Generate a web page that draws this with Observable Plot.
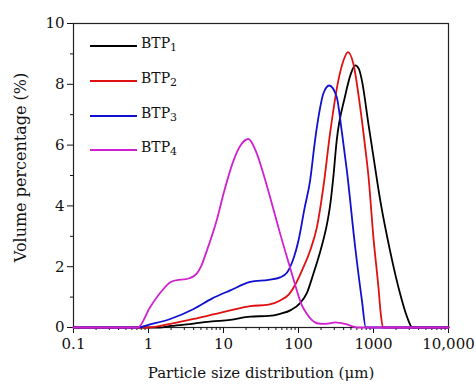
<!DOCTYPE html>
<html>
<head>
<meta charset="utf-8">
<script src="https://cdn.jsdelivr.net/npm/d3@7"></script>
<script src="https://cdn.jsdelivr.net/npm/@observablehq/plot@0.6"></script>
<style>
  html, body { margin: 0; padding: 0; background: #fff; }
  #wrap { position: relative; width: 476px; height: 386px; font-family: "DejaVu Serif", serif; }
  .leg { position: absolute; left: 90px; font-size: 14px; color: #111; }
  .leg .ln { position: absolute; left: 0; width: 47px; height: 0; border-top: 2px solid; }
  .leg .tx { position: absolute; left: 51px; top: -10px; white-space: nowrap; }
  .leg sub { font-size: 11px; position: relative; top: 3px; vertical-align: baseline; }
</style>
</head>
<body>
<div id="wrap"></div>
<script>
// ---- data ----
const seriesNames = ["BTP1", "BTP2", "BTP3", "BTP4"];
const seriesColors = ["#000000", "#e01010", "#1010d0", "#d020d0"];

const btp1X = [0.1, 1.4, 2, 4, 7, 12.3, 22.7, 40, 57, 80, 105, 130, 158, 200, 240, 260, 290, 323, 417, 500, 570, 640, 700, 855, 970, 1230, 1660, 2270, 2800, 3300, 10000];
const btp1Y = [0, 0, 0.05, 0.13, 0.2, 0.25, 0.36, 0.38, 0.45, 0.58, 0.8, 1.15, 1.77, 2.6, 3.41, 3.9, 4.9, 6.15, 7.6, 8.35, 8.62, 8.5, 8.13, 6.7, 5.82, 4.18, 2.53, 1.1, 0.35, 0, 0];

const btp2X = [0.1, 1.0, 1.95, 4, 7, 12.3, 22.7, 40, 57, 75, 90, 110, 143, 176, 214, 264, 340, 400, 457, 540, 664, 777, 855, 1000, 1166, 1250, 1340, 10000];
const btp2Y = [0, 0, 0.12, 0.28, 0.42, 0.56, 0.7, 0.75, 0.89, 1.1, 1.4, 1.85, 2.53, 3.3, 4.6, 6.4, 8.13, 8.8, 9.06, 8.67, 7.25, 5.9, 5.0, 2.93, 1.3, 0.45, 0, 0];

const btp3X = [0.1, 0.72, 1.05, 1.95, 4, 7, 12.3, 22.7, 40, 57, 70, 77, 88, 100, 120, 143, 166, 190, 214, 257, 323, 380, 442, 570, 700, 790, 10000];
const btp3Y = [0, 0, 0.1, 0.28, 0.61, 0.95, 1.22, 1.5, 1.57, 1.65, 1.8, 1.98, 2.35, 2.86, 3.9, 4.84, 6.15, 7.1, 7.69, 7.96, 7.58, 6.4, 5.15, 2.64, 0.9, 0, 0];

const btp4X = [0.1, 0.72, 1.05, 1.5, 1.95, 2.5, 3, 3.5, 4.4, 5, 6, 8.1, 10, 13.6, 17, 21.5, 27, 34, 45, 57, 77, 95, 110, 129, 150, 176, 220, 264, 309, 360, 442, 520, 600, 10000];
const btp4Y = [0, 0, 0.67, 1.2, 1.49, 1.57, 1.58, 1.62, 1.77, 2.0, 2.53, 3.52, 4.4, 5.49, 6.0, 6.2, 5.8, 5.06, 4.0, 3.08, 1.98, 1.22, 0.75, 0.45, 0.25, 0.14, 0.12, 0.14, 0.17, 0.15, 0.1, 0.04, 0, 0];

const xTicks = [0.1, 1, 10, 100, 1000, 10000];
const xTickLabels = ["0.1", "1", "10", "100", "1000", "10,000"];
const yTicks = [0, 2, 4, 6, 8, 10];
const yMinorTicks = [1, 3, 5, 7, 9];

// ---- build ----
const allX = [btp1X, btp2X, btp3X, btp4X];
const allY = [btp1Y, btp2Y, btp3Y, btp4Y];
const rows = [];
seriesNames.forEach((s, i) => allX[i].forEach((x, j) => rows.push({series: s, x, y: allY[i][j]})));

const xMinor = [];
for (let d = 0; d < xTicks.length - 1; d++) for (let k = 2; k <= 9; k++) xMinor.push(xTicks[d] * k);

const chart = Plot.plot({
  width: 476,
  height: 386,
  marginLeft: 73,
  marginRight: 28,
  marginTop: 23,
  marginBottom: 59,
  style: {fontFamily: "DejaVu Serif, serif", fontSize: "15px", color: "#111", background: "#fff"},
  x: {type: "log", domain: [0.1, 10000]},
  y: {domain: [0, 10]},
  color: {domain: seriesNames, range: seriesColors},
  marks: [
    Plot.frame({stroke: "#222", strokeWidth: 1.2}),
    Plot.axisX({ticks: xTicks, tickFormat: (d) => xTickLabels[xTicks.indexOf(d)], tickSize: 6, tickPadding: 5, label: null, fontSize: 15}),
    Plot.axisX({ticks: xMinor, text: null, tickSize: 3, label: null}),
    Plot.axisY({ticks: yTicks, tickSize: 6, tickPadding: 3, label: null, fontSize: 15}),
    Plot.axisY({ticks: yMinorTicks, text: null, tickSize: 3, label: null}),
    Plot.line(rows, {x: "x", y: "y", z: "series", stroke: "series", strokeWidth: 1.8, curve: "monotone-x"}),
    Plot.text(["Particle size distribution (μm)"], {frameAnchor: "bottom", dy: 50, fontSize: 15}),
    Plot.text(["Volume percentage (%)"], {frameAnchor: "left", dx: -53, dy: -8, rotate: -90, textAnchor: "middle", fontSize: 16})
  ]
});
const wrap = document.getElementById("wrap");
wrap.appendChild(chart);

// legend (inside plot, top-left)
const legTops = [45, 80, 115, 149];
seriesNames.forEach((s, i) => {
  const d = document.createElement("div");
  d.className = "leg";
  d.style.top = legTops[i] + "px";
  d.innerHTML = `<div class="ln" style="border-color:${seriesColors[i]}"></div><div class="tx">BTP<sub>${s.slice(3)}</sub></div>`;
  wrap.appendChild(d);
});
</script>
</body>
</html>
